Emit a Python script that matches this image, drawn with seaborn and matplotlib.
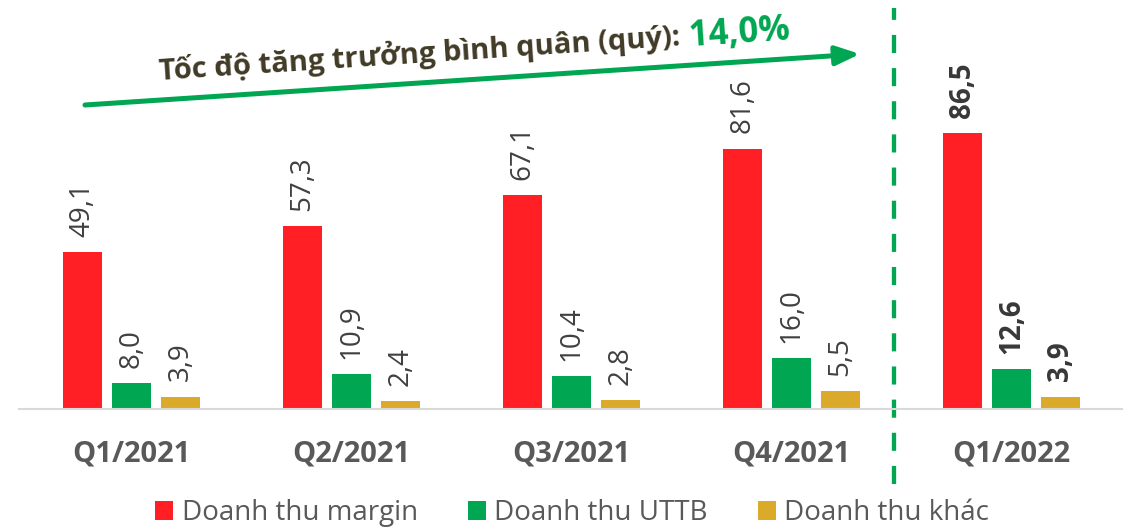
import matplotlib
matplotlib.use("Agg")
import matplotlib.pyplot as plt
import seaborn as sns
import pandas as pd

quarters = ["Q1/2021", "Q2/2021", "Q3/2021", "Q4/2021", "Q1/2022"]
margin = [49.1, 57.3, 67.1, 81.6, 86.5]
uttb = [8.0, 10.9, 10.4, 16.0, 12.6]
khac = [3.9, 2.4, 2.8, 5.5, 3.9]
series = ["Doanh thu margin", "Doanh thu UTTB", "Doanh thu khác"]
colors = ["#FF1F24", "#00A651", "#DBAA2A"]
title_main = "Tốc độ tăng trưởng bình quân (quý):"
title_rate = "14,0%"

df = pd.DataFrame({
    "quy": quarters * 3,
    "loai": [series[0]] * 5 + [series[1]] * 5 + [series[2]] * 5,
    "gia_tri": margin + uttb + khac,
})

sns.set_style("white")
plt.rcParams["font.family"] = ["Open Sans", "DejaVu Sans"]

W, H = 1132, 531
fig = plt.figure(figsize=(W / 100, H / 100), dpi=100)
ax = fig.add_axes([19 / W, (H - 409) / H, (1122 - 19) / W, 409 / H])

sns.barplot(data=df, x="quy", y="gia_tri", hue="loai", order=quarters,
            hue_order=series, palette=colors, saturation=1, width=0.67,
            gap=0.2, linewidth=0, ax=ax)

ax.set_xlim(-0.511, 4.502)
ax.set_ylim(0, 128.2)
ax.set_yticks([])
ax.set_xlabel("")
ax.set_ylabel("")
for s in ["left", "right", "top"]:
    ax.spines[s].set_visible(False)
ax.spines["bottom"].set_color("#D9D9D9")
ax.spines["bottom"].set_linewidth(1.5)
ax.tick_params(axis="x", length=0, pad=22, labelsize=21, labelcolor="#595959")
for t in ax.get_xticklabels():
    t.set_fontweight("bold")

# nhãn giá trị
for cont in ax.containers:
    vals = [b.get_height() for b in cont]
    labs = [f"{v:.1f}".replace(".", ",") for v in vals]
    texts = ax.bar_label(cont, labels=labs, rotation=90, padding=11,
                         fontsize=20, color="#404040")
    texts[-1].set_fontweight("bold")
    texts[-1].set_color("#383838")

# legend
handles, labels = ax.get_legend_handles_labels()
ax.legend(handles, labels, loc="center", bbox_to_anchor=(572 / W, 18 / H),
          bbox_transform=fig.transFigure, ncol=3, frameon=False,
          fontsize=20, labelcolor="#595959", handlelength=0.65,
          handleheight=0.65, handletextpad=0.3, columnspacing=1.8,
          borderpad=0)

# đường phân cách
ax.axvline(3.466, ymin=(409 - 484) / 409, ymax=(409 - 8) / 409,
           color="#00A651", linewidth=3.1, dashes=(4.2, 3.5), clip_on=False)

# mũi tên tăng trưởng
fig.patches.append(matplotlib.patches.FancyArrowPatch(
    (85 / W, (H - 105) / H), (860 / W, (H - 54) / H),
    transform=fig.transFigure, arrowstyle="-|>,head_length=0.8,head_width=0.32",
    mutation_scale=18, color="#00A651", linewidth=3.6,
    shrinkA=0, shrinkB=0))

fig.text(681 / W, (H - 45) / H, title_main, rotation=3.8,
         rotation_mode="anchor", ha="right", va="baseline",
         fontsize=21, fontweight="bold", color="#403A26")
fig.text(690 / W, (H - 46) / H, title_rate, rotation=3.8,
         rotation_mode="anchor", ha="left", va="baseline",
         fontsize=25, fontweight="bold", color="#00A651")

fig.savefig("out.png", dpi=100)
